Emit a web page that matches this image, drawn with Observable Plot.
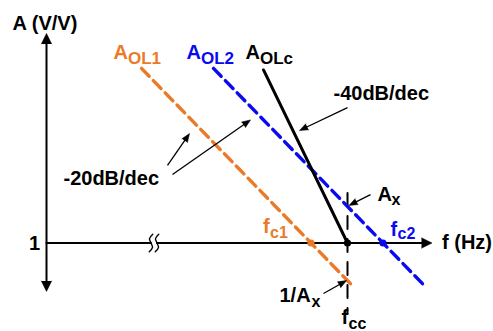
<!DOCTYPE html>
<html><head><meta charset="utf-8">
<script src="https://cdn.jsdelivr.net/npm/d3@7"></script>
<script src="https://cdn.jsdelivr.net/npm/@observablehq/plot@0.6"></script>
<style>body{margin:0;background:#fff}</style>
</head><body><div id="chart"></div>
<script>
// Units: x = log10(frequency) in decades (relative), y = gain in dB (0 dB = gain of 1 V/V)
const ORANGE = "#EB7A28", BLUE = "#0A0AF0", BLACK = "#000";

// open-loop gain curves (end points)
const ol1Dec = [1.90, 6.14], ol1Db = [67.8, -17.0];   // A_OL1, -20 dB/dec
const ol2Dec = [3.34, 7.58], ol2Db = [67.8, -17.0];   // A_OL2, -20 dB/dec
const olcDec = [4.34, 6.02], olcDb = [67.2, 0.0];     // A_OLc, -40 dB/dec

// crossover frequencies
const fc1 = 5.29, fc2 = 6.73, fcc = 6.02;
const crossNames = ["fc1", "fc2", "fcc"];
const crossDec = [fc1, fc2, fcc];
const crossColor = [ORANGE, BLUE, BLACK];
const fccLineDb = [19.4, -27.4];

// axes
const yAxisDb = [-18.8, 81.4];
const xAxisDec = [0, 7.71];
const breakDec = [2.09, 2.21];                         // axis-break wave positions
const breakWaveDx = [0.035, -0.03, 0, 0.03, -0.035];   // wave shape
const breakWaveDb = [3.4, 1.7, 0, -1.7, -3.4];

// annotation arrows: start -> tip
const arrowX1 = [6.02, 2.42, 2.52, 6.48, 5.54];
const arrowY1 = [52.6, 30.1, 26.6, 18.8, -19.6];
const arrowX2 = [5.06, 2.86, 4.08, 6.05, 6.00];
const arrowY2 = [43.7, 42.5, 47.8, 14.6, -14.6];

// labels: text, position, size, colour
const labelText  = ["A (V/V)", "1", "A", "OL1", "A", "OL2", "A", "OLc", "-40dB/dec", "-20dB/dec",
                    "f", "c1", "f", "c2", "f (Hz)", "A", "x", "1/A", "x", "f", "cc"];
const labelDec   = [-0.68, -0.13, 1.34, 1.63, 2.80, 3.09, 3.98, 4.27, 5.74, 0.34,
                    4.33, 4.47, 6.88, 7.02, 7.91, 6.62, 6.90, 4.66, 5.30, 5.90, 6.04];
const labelDb    = [82.9, -2.9, 71.6, 69.7, 71.6, 69.7, 71.6, 69.7, 55.7, 22.7,
                    3.9, 1.75, 2.9, 1.5, -2.3, 16.2, 14.8, -23.0, -24.7, -31.6, -33.3];
const labelSize  = [20, 20, 20, 17, 20, 17, 20, 17, 20, 20,
                    20, 16, 20, 16, 20, 20, 16, 20, 16, 20, 16];
const labelColor = [BLACK, BLACK, ORANGE, ORANGE, BLUE, BLUE, BLACK, BLACK, BLACK, BLACK,
                    ORANGE, ORANGE, BLUE, BLUE, BLACK, BLACK, BLACK, BLACK, BLACK, BLACK, BLACK];
const labelAnchor = labelText.map((t, i) => i === 1 ? "end" : "start");

// scale set-up
const X0 = 46, PXD = 50;          // pixels per decade
const Y0 = 242.5, PX20 = 51.5;    // pixels per 20 dB
const PXDB = PX20 / 20;

const rot = (x1, y1, x2, y2) => Math.atan2((x2 - x1) * PXD, (y2 - y1) * PXDB) * 180 / Math.PI;
function shrink(x1, y1, x2, y2, s) {
  const dx = (x2 - x1) * PXD, dy = (y2 - y1) * PXDB, L = Math.hypot(dx, dy);
  return [x2 - dx / L * s / PXD, y2 - dy / L * s / PXDB];
}

const pts = (xs, ys) => xs.map((x, i) => ({x, y: ys[i]}));
const arrows = arrowX1.map((x1, i) => {
  const [xe, ye] = shrink(x1, arrowY1[i], arrowX2[i], arrowY2[i], 4);
  return {x1, y1: arrowY1[i], x2: arrowX2[i], y2: arrowY2[i], xe, ye,
          r: rot(x1, arrowY1[i], arrowX2[i], arrowY2[i])};
});
const crossings = crossDec.map((x, i) => ({name: crossNames[i], x, y: 0, c: crossColor[i]}));
const labels = labelText.map((t, i) => ({t, x: labelDec[i], y: labelDb[i], s: labelSize[i], c: labelColor[i], a: labelAnchor[i]}));
const breakWaves = breakDec.flatMap((cx, k) => breakWaveDx.map((d, i) => ({k, x: cx + d, y: breakWaveDb[i]})));

const FONT = "'Liberation Sans', Arial, Helvetica, sans-serif";

const axisHeads = [
  {x: 0, y: yAxisDb[1], r: 0},
  {x: 0, y: yAxisDb[0], r: 180},
  {x: xAxisDec[1], y: 0, r: 90}
];

const marks = [
  // y axis
  Plot.line(pts([0, 0], [yAxisDb[0] + 2, yAxisDb[1] - 2]), {x: "x", y: "y", stroke: BLACK, strokeWidth: 2}),
  // x axis with break
  Plot.line(pts([xAxisDec[0], breakDec[0]], [0, 0]), {x: "x", y: "y", stroke: BLACK, strokeWidth: 2}),
  Plot.line(pts([breakDec[1], xAxisDec[1] - 0.1], [0, 0]), {x: "x", y: "y", stroke: BLACK, strokeWidth: 2}),
  Plot.line(breakWaves, {x: "x", y: "y", z: "k", curve: "catmull-rom", stroke: BLACK, strokeWidth: 1.4}),
  Plot.vector(axisHeads, {x: "x", y: "y", rotate: "r", length: 10.5, r: 5.2, shape: "spike", anchor: "end",
    fill: BLACK, stroke: BLACK, strokeWidth: 0.5}),

  // fcc vertical dashed line
  Plot.line(pts([fcc, fcc], fccLineDb), {x: "x", y: "y", stroke: BLACK, strokeWidth: 2, strokeDasharray: "13,10"}),

  // open-loop curves
  Plot.line(pts(ol1Dec, ol1Db), {x: "x", y: "y", stroke: ORANGE, strokeWidth: 3.4, strokeDasharray: "11,6"}),
  Plot.line(pts(ol2Dec, ol2Db), {x: "x", y: "y", stroke: BLUE, strokeWidth: 3.4, strokeDasharray: "11,6"}),
  Plot.line(pts(olcDec, olcDb), {x: "x", y: "y", stroke: BLACK, strokeWidth: 3}),

  // crossover dots
  Plot.dot(crossings, {x: "x", y: "y", r: 3.6, fill: "c", stroke: "none"}),

  // annotation arrows
  Plot.link(arrows, {x1: "x1", y1: "y1", x2: "xe", y2: "ye", stroke: BLACK, strokeWidth: 1.3}),
  Plot.vector(arrows, {x: "x2", y: "y2", rotate: "r", length: 8.5, r: 3.3, shape: "spike", anchor: "end",
    fill: BLACK, stroke: BLACK, strokeWidth: 0.5}),

  // labels
  ...labels.map(l => Plot.text([l], {x: "x", y: "y", text: "t", fill: l.c, fontSize: l.s, fontWeight: "bold",
    textAnchor: l.a, lineAnchor: "bottom", fontFamily: FONT}))
];

const chart = Plot.plot({
  width: 493, height: 331,
  x: {type: "linear", domain: [0, 1], range: [X0, X0 + PXD], axis: null},
  y: {type: "linear", domain: [0, 20], range: [Y0, Y0 - PX20], axis: null},
  color: {type: "identity"},
  style: {background: "#fff", overflow: "visible", fontFamily: FONT},
  marks
});
document.getElementById("chart").appendChild(chart);
</script>
</body></html>
